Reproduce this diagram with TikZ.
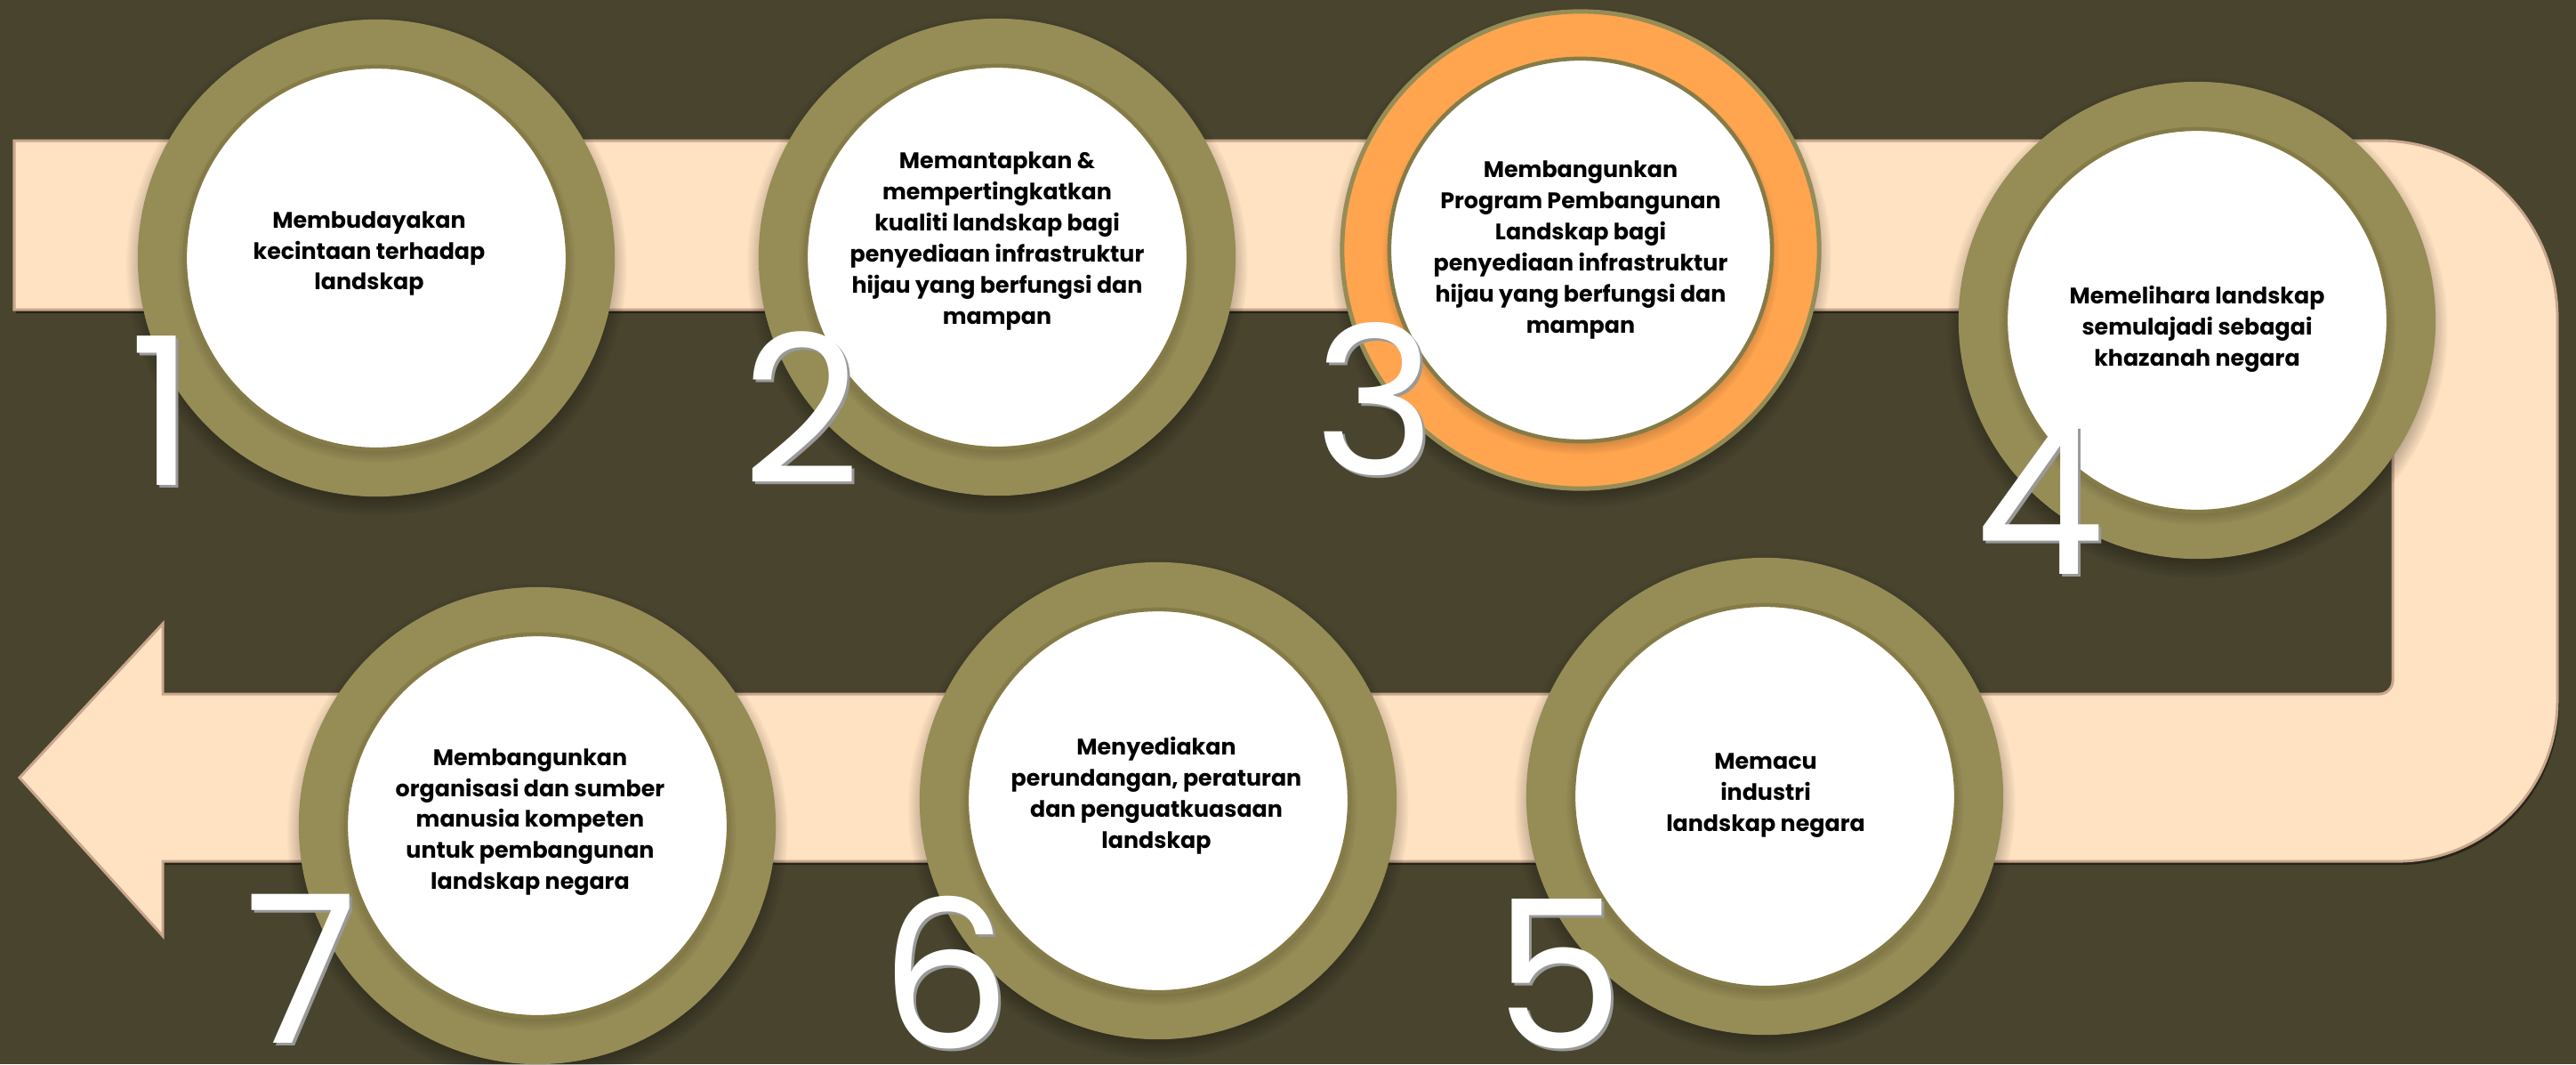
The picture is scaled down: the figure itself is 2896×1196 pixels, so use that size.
\documentclass[tikz,border=0pt]{standalone}
\usepackage{fontspec}
\setmainfont{Poppins}
\newfontfamily\labelfont{Poppins}
\newfontfamily\digitfont{Poppins}
\usetikzlibrary{shadows}
\definecolor{bgolive}{HTML}{48442E}
\definecolor{ringolive}{HTML}{968C56}
\definecolor{ringedge}{HTML}{857B47}
\definecolor{peach}{HTML}{FFE2C1}
\definecolor{peachedge}{HTML}{C9A68C}
\definecolor{ringorange}{HTML}{FFA54F}
\tikzstyle{ring} = [circle, minimum size=5.36cm, inner sep=0pt, fill=ringolive, circular drop shadow={shadow xshift=0pt, shadow yshift=-0.08cm, shadow scale=1.05, fill=black, opacity=0.55}]
\tikzstyle{hotring} = [ring, fill=ringorange, draw=ringolive, line width=0.05cm]
\tikzstyle{disc} = [circle, minimum size=4.3cm, inner sep=0pt, fill=white, draw=ringedge, line width=0.045cm, circular drop shadow={shadow xshift=0pt, shadow yshift=-0.06cm, shadow scale=1.04, fill=black, opacity=0.4}]
\tikzstyle{caption} = [align=center, inner sep=0pt, text=black, font=\labelfont\bfseries\fontsize{7.2}{9.9}\selectfont]
\tikzstyle{numeral} = [anchor=base, inner sep=0pt, text=white, font=\digitfont\fontsize{66}{66}\selectfont]
\tikzstyle{numshade} = [numeral, text=black!40]

\begin{document}
\begin{tikzpicture}[x=0.01cm, y=-0.01cm]
        \useasboundingbox (0,0) rectangle (2896,1196);
        \fill[bgolive] (0,0) rectangle (2896,1196);
        % the U shaped band with its arrow head
        \fill[peach, draw=peachedge, line width=0.03cm, drop shadow={shadow xshift=0.02cm, shadow yshift=-0.04cm, fill=black, opacity=0.45}]
          (16,158) -- (2675,158) arc[start angle=90, end angle=0, radius=2cm]
          -- (2875,788) arc[start angle=0, end angle=-90, radius=1.8cm]
          -- (183,968) -- (183,1052) -- (22,874) -- (183,701) -- (183,780)
          -- (2675,780) arc[start angle=-90, end angle=0, radius=0.15cm]
          -- (2690,363) arc[start angle=0, end angle=90, radius=0.15cm]
          -- (16,348) -- cycle;
        % rings
        \node (ring1) [ring] at (423,290) {};
        \node (ring2) [ring] at (1121,289) {};
        \node (ring3) [hotring] at (1777,281) {};
        \node (ring4) [ring] at (2470,360) {};
        \node (ring5) [ring] at (1984,895) {};
        \node (ring6) [ring] at (1302,900) {};
        \node (ring7) [ring] at (604,928) {};
        % white discs
        \node (disc1) [disc] at (ring1) {};
        \node (disc2) [disc] at (ring2) {};
        \node (disc3) [disc] at (ring3) {};
        \node (disc4) [disc] at (ring4) {};
        \node (disc5) [disc] at (ring5) {};
        \node (disc6) [disc] at (ring6) {};
        \node (disc7) [disc] at (ring7) {};
        % texts
        \node (txt1) [caption] at (415,285) {Membudayakan\\kecintaan terhadap\\landskap};
        \node (txt2) [caption] at (1121,271) {Memantapkan \&\\mempertingkatkan\\kualiti landskap bagi\\penyediaan infrastruktur\\hijau yang berfungsi dan\\mampan};
        \node (txt3) [caption] at (1777,281) {Membangunkan\\Program Pembangunan\\Landskap bagi\\penyediaan infrastruktur\\hijau yang berfungsi dan\\mampan};
        \node (txt4) [caption] at (2470,370) {Memelihara landskap\\semulajadi sebagai\\khazanah negara};
        \node (txt5) [caption] at (1985,894) {Memacu\\industri\\landskap negara};
        \node (txt6) [caption] at (1300,894) {Menyediakan\\perundangan, peraturan\\dan penguatkuasaan\\landskap};
        \node (txt7) [caption] at (596,924) {Membangunkan\\organisasi dan sumber\\manusia kompeten\\untuk pembangunan\\landskap negara};
        % numbers
        \node (num1s) [numshade] at (186,548) {1};
        \node (num1) [numeral] at (183,545) {1};
        \node (num2s) [numshade] at (904,546) {2};
        \node (num2) [numeral] at (901,543) {2};
        \node (num3s) [numshade] at (1549,536) {3};
        \node (num3) [numeral] at (1546,533) {3};
        \node (num4s) [numshade] at (2296,648) {4};
        \node (num4) [numeral] at (2293,645) {4};
        \node (num5s) [numshade] at (1755,1181) {5};
        \node (num5) [numeral] at (1752,1178) {5};
        \node (num6s) [numshade] at (1066,1181) {6};
        \node (num6) [numeral] at (1063,1178) {6};
        \node (num7s) [numshade] at (342,1175) {7};
        \node (num7) [numeral] at (339,1172) {7};
\end{tikzpicture}
\end{document}
